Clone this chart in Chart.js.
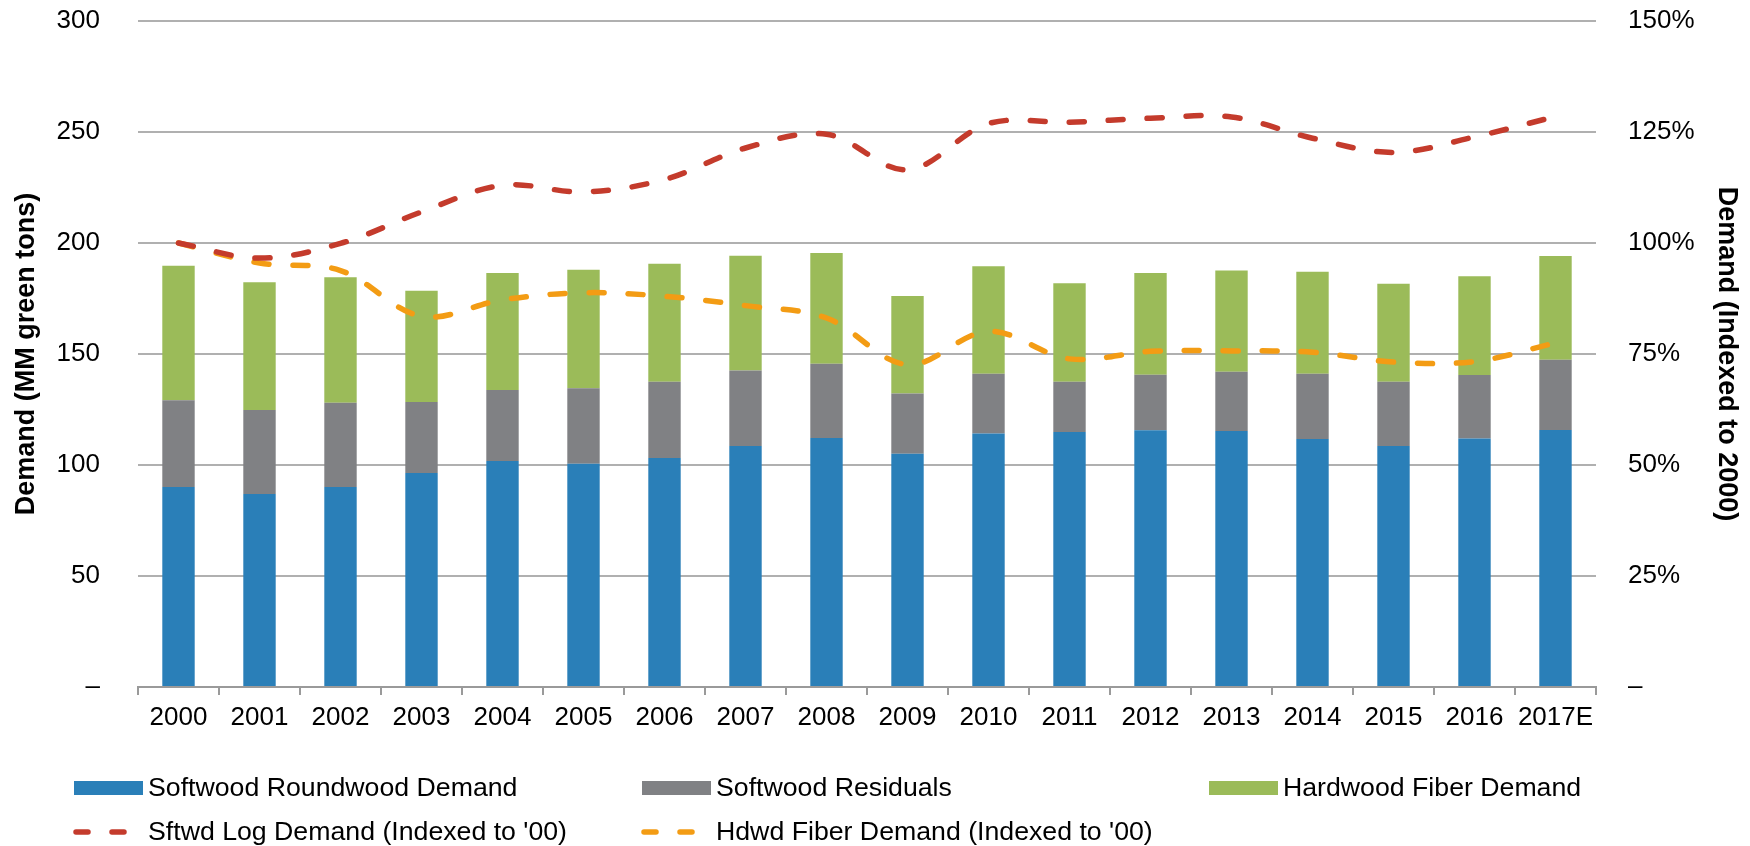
<!DOCTYPE html>
<html>
<head>
<meta charset="utf-8">
<script src="https://cdn.jsdelivr.net/npm/chart.js@4.4.1/dist/chart.umd.min.js"></script>
<style>
  html, body { margin: 0; padding: 0; background: #fff; }
  #wrap { width: 1750px; height: 846px; }
</style>
</head>
<body>
<div id="wrap"><canvas id="demandChart" width="1750" height="846"></canvas></div>
<script>
'use strict';

var years = ['2000', '2001', '2002', '2003', '2004', '2005', '2006', '2007', '2008',
  '2009', '2010', '2011', '2012', '2013', '2014', '2015', '2016', '2017E'];

// MM green tons (stack segments)
var softwoodRoundwood = [90.1, 86.9, 90.1, 96.4, 101.8, 100.6, 103.2, 108.6, 112.2,
  105.1, 114.2, 114.9, 115.7, 115.3, 111.7, 108.6, 111.9, 115.8];
var softwoodResiduals = [39.1, 37.9, 37.9, 32.0, 32.0, 34.0, 34.3, 34.0, 33.4,
  27.1, 26.9, 22.6, 24.9, 26.7, 29.4, 28.9, 28.6, 31.6];
var hardwoodFiber = [60.5, 57.5, 56.6, 50.1, 52.7, 53.4, 53.1, 51.7, 49.9,
  43.9, 48.4, 44.4, 45.9, 45.6, 45.9, 44.2, 44.5, 46.8];

// indexed to 2000 (%)
var sftwdLogIndex = [100, 96.6, 99.9, 107, 113, 111.5, 114.3, 121.4, 124.5,
  116.5, 126.9, 127.2, 128.1, 128.4, 123.6, 120.4, 123.9, 128.5];
var hdwdFiberIndex = [100, 95.5, 93.8, 83.5, 87.2, 88.8, 88.0, 85.9, 83.1,
  72.6, 80.1, 73.9, 75.6, 75.7, 75.4, 73.2, 73.3, 77.5];

var leftMax = 300, leftStep = 50;
var rightMax = 150, rightStep = 25;

var FONT = '"Liberation Sans", Arial, sans-serif';

// legend laid out as a grid (3 columns, 2 rows) under the axis
var gridLegend = {
  id: 'gridLegend',
  afterDraw: function (chart) {
    var ctx = chart.ctx;
    var cols = [74, 642, 1209];
    var rows = [788, 832];
    ctx.save();
    ctx.font = '26.7px ' + FONT;
    ctx.textBaseline = 'middle';
    ctx.textAlign = 'left';
    chart.data.datasets.forEach(function (ds, i) {
      var x = cols[i % 3], y = rows[Math.floor(i / 3)];
      if (ds.type === 'line') {
        ctx.strokeStyle = ds.borderColor;
        ctx.lineWidth = 5.5;
        ctx.lineCap = 'round';
        ctx.setLineDash([12, 24]);
        ctx.beginPath();
        ctx.moveTo(x + 2, y);
        ctx.lineTo(x + 69, y);
        ctx.stroke();
        ctx.setLineDash([]);
      } else {
        ctx.fillStyle = ds.backgroundColor;
        ctx.fillRect(x, y - 7, 69, 14);
      }
      ctx.fillStyle = '#000';
      ctx.fillText(ds.label, x + 74, y + 1);
    });
    ctx.restore();
  }
};

// tick padding would otherwise push the plot top down
function fixVertical(width) {
  return function (scale) {
    scale.width = width;
    scale.paddingTop = 0;
    scale.paddingBottom = 0;
  };
}

var ctx = document.getElementById('demandChart').getContext('2d');

new Chart(ctx, {
  data: {
    labels: years,
    datasets: [{
      type: 'bar',
      label: 'Softwood Roundwood Demand',
      data: softwoodRoundwood,
      backgroundColor: '#2a7fb8',
      yAxisID: 'y',
      order: 2,
      barPercentage: 0.4,
      categoryPercentage: 1
    }, {
      type: 'bar',
      label: 'Softwood Residuals',
      data: softwoodResiduals,
      backgroundColor: '#808184',
      yAxisID: 'y',
      order: 2,
      barPercentage: 0.4,
      categoryPercentage: 1
    }, {
      type: 'bar',
      label: 'Hardwood Fiber Demand',
      data: hardwoodFiber,
      backgroundColor: '#9bbb59',
      yAxisID: 'y',
      order: 2,
      barPercentage: 0.4,
      categoryPercentage: 1
    }, {
      type: 'line',
      label: "Sftwd Log Demand (Indexed to '00)",
      data: sftwdLogIndex,
      borderColor: '#c43b2c',
      borderWidth: 5.5,
      borderDash: [15, 24],
      borderCapStyle: 'round',
      tension: 0.35,
      pointRadius: 0,
      fill: false,
      yAxisID: 'y1',
      order: 0
    }, {
      type: 'line',
      label: "Hdwd Fiber Demand (Indexed to '00)",
      data: hdwdFiberIndex,
      borderColor: '#f39c14',
      borderWidth: 5.5,
      borderDash: [15, 24],
      borderCapStyle: 'round',
      tension: 0.35,
      pointRadius: 0,
      fill: false,
      yAxisID: 'y1',
      order: 1
    }]
  },
  options: {
    animation: false,
    responsive: false,
    layout: { padding: { top: 21, left: 0, right: 0, bottom: 113 } },
    plugins: {
      legend: { display: false },
      tooltip: { enabled: false }
    },
    scales: {
      x: {
        stacked: true,
        offset: true,
        grid: {
          offset: true,
          drawOnChartArea: false,
          drawTicks: true,
          tickLength: 8,
          color: '#9a9a9a',
          lineWidth: 2
        },
        border: { display: true, color: '#9a9a9a', width: 2 },
        ticks: {
          padding: 7,
          color: '#000',
          maxRotation: 0,
          autoSkip: false,
          font: { family: FONT, size: 26 }
        },
        afterFit: function (scale) { scale.height = 46; }
      },
      y: {
        stacked: true,
        position: 'left',
        min: 0,
        max: leftMax,
        border: { display: false },
        grid: { color: '#b0b0b0', lineWidth: 2, drawTicks: false },
        ticks: {
          stepSize: leftStep,
          padding: 38,
          color: '#000',
          font: { family: FONT, size: 26 },
          callback: function (v) { return v === 0 ? '–' : v; }
        },
        title: {
          display: true,
          text: 'Demand (MM green tons)',
          color: '#000',
          padding: { top: 10, bottom: 0 },
          font: { family: FONT, size: 27, weight: 'bold' }
        },
        afterFit: fixVertical(138)
      },
      y1: {
        position: 'right',
        min: 0,
        max: rightMax,
        border: { display: false },
        grid: { drawOnChartArea: false, drawTicks: false },
        ticks: {
          stepSize: rightStep,
          padding: 32,
          color: '#000',
          font: { family: FONT, size: 26 },
          callback: function (v) { return v === 0 ? '–' : v + '%'; }
        },
        title: {
          display: true,
          text: 'Demand (Indexed to 2000)',
          color: '#000',
          padding: { top: 7, bottom: 0 },
          font: { family: FONT, size: 27, weight: 'bold' }
        },
        afterFit: fixVertical(154)
      }
    }
  },
  plugins: [gridLegend]
});
</script>
</body>
</html>
